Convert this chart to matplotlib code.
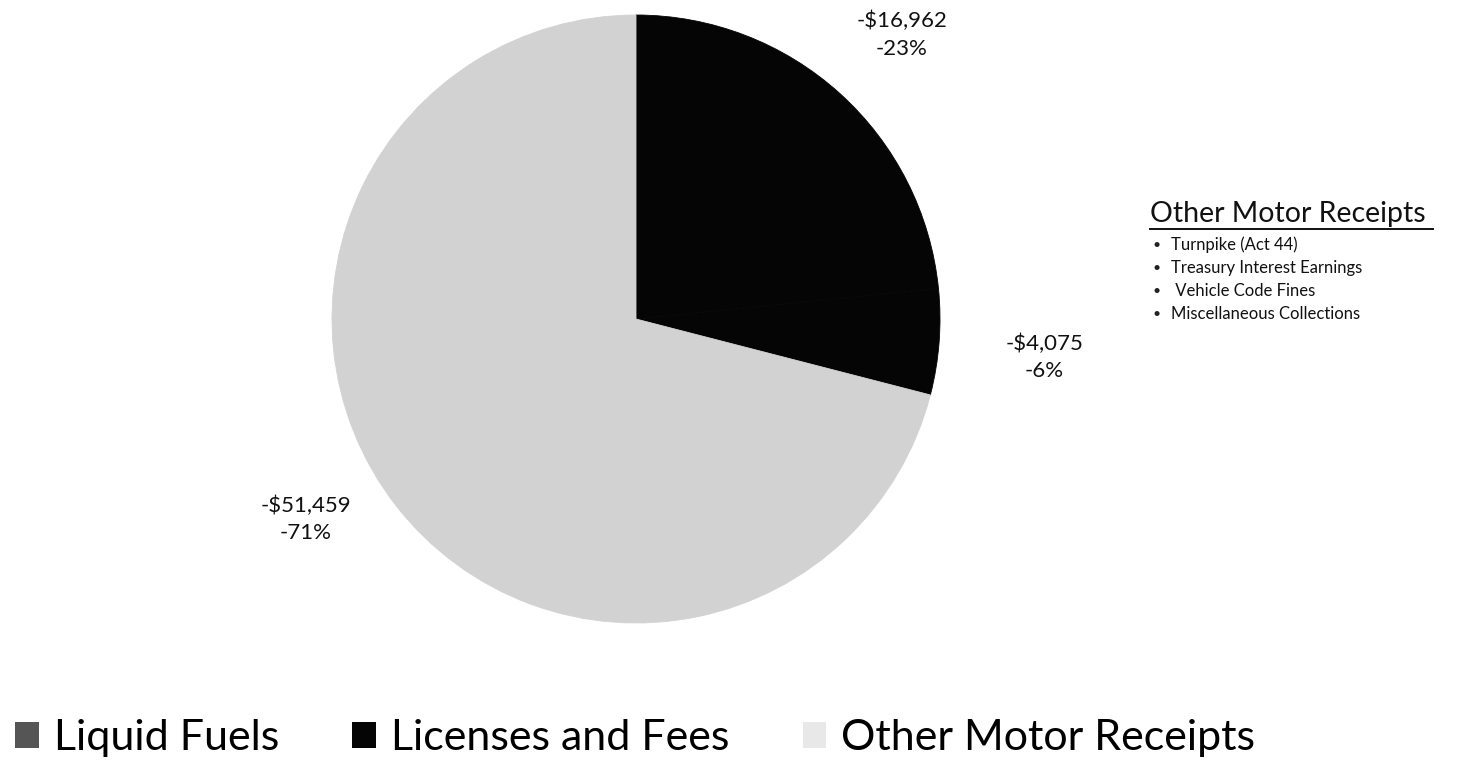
import matplotlib
matplotlib.use("Agg")
import numpy as np
import matplotlib.pyplot as plt
from matplotlib.patches import Patch

# data, in pie order (clockwise from top)
categories = ['Licenses and Fees', 'Other Motor Receipts', 'Liquid Fuels']
amounts = [16962, 4075, 51459]
amount_labels = ['-$16,962', '-$4,075', '-$51,459']
pct_labels = ['-23%', '-6%', '-71%']

legend_order = ['Liquid Fuels', 'Licenses and Fees', 'Other Motor Receipts']
side_title = 'Other Motor Receipts'
side_items = ['Turnpike (Act 44)', 'Treasury Interest Earnings',
              ' Vehicle Code Fines', 'Miscellaneous Collections']

plt.rcParams['font.family'] = ['Lato', 'DejaVu Sans']

W, H = 1465, 766
fig = plt.figure(figsize=(W / 100, H / 100), dpi=100)

# pie axes: centre (636, 319) px, radius ~304 px
cx, cy, r = 636, 319, 304
ax = fig.add_axes([(cx - r) / W, (H - cy - r) / H, 2 * r / W, 2 * r / H])

wedge_colors = ['#050505', '#050505', '#d2d2d2']
wedges, _ = ax.pie(amounts, startangle=90, counterclock=False,
                   colors=wedge_colors, radius=1.0)
for w in wedges:
    w.set_edgecolor(w.get_facecolor())
    w.set_linewidth(0.6)
ax.set_xlim(-1, 1)
ax.set_ylim(-1, 1)
ax.set_aspect('equal')
ax.axis('off')

# data labels outside each wedge
label_dist = [1.28, 1.35, 1.27]
angle_shift = [-1, -1, -6.5]
for w, amt, pct, d, da in zip(wedges, amount_labels, pct_labels, label_dist, angle_shift):
    ang = np.radians((w.theta1 + w.theta2) / 2 + da)
    ax.text(d * np.cos(ang), d * np.sin(ang), f'{amt}\n{pct}',
            ha='center', va='center', fontsize=16, linespacing=1.45,
            color='#111111', clip_on=False)

# side note listing the other motor receipts
tx = 1150 / W
fig.text(tx, 1 - 214 / H, side_title, fontsize=20.5, color='#111111',
         va='center', ha='left')
fig.lines.append(plt.Line2D([tx, 1433 / W], [1 - 229 / H, 1 - 229 / H],
                            transform=fig.transFigure, color='#111111', lw=1.4))
for i, item in enumerate(side_items):
    y = 1 - (245 + i * 23) / H
    fig.text(1153 / W, y, '•', fontsize=10, color='#222222', va='center', ha='left')
    fig.text(1171 / W, y, item, fontsize=12, color='#111111', va='center', ha='left')

# bottom legend
legend_colors = {'Liquid Fuels': '#555555', 'Licenses and Fees': '#050505',
                 'Other Motor Receipts': '#e8e8e8'}
handles = [Patch(facecolor=legend_colors[c], edgecolor='none', label=c) for c in legend_order]
fig.legend(handles=handles, loc='center left', bbox_to_anchor=(-13 / W, 1 - 738 / H),
           ncol=3, frameon=False, fontsize=31, handlelength=0.55, handleheight=0.55,
           handletextpad=0.35, columnspacing=1.7, borderaxespad=0.25)

fig.savefig('out.png', dpi=100, facecolor='white')
